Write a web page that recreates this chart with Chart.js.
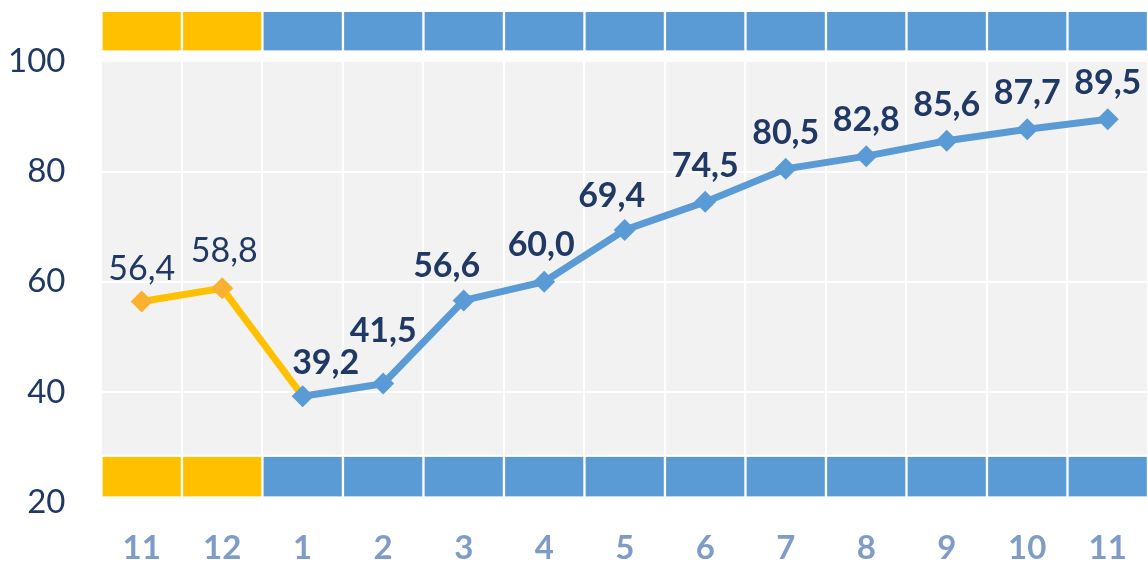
<!DOCTYPE html>
<html>
<head>
<meta charset="utf-8">
<script src="https://cdn.jsdelivr.net/npm/chart.js@4.4.1/dist/chart.umd.min.js"></script>
<style>
  html, body { margin: 0; padding: 0; background: #fff; }
  #wrap { width: 1148px; height: 565px; position: relative; }
</style>
</head>
<body>
<div id="wrap"><canvas id="chart"></canvas></div>
<script>
// months on the x axis (Nov of prior year -> Nov)
const months = ['11', '12', '1', '2', '3', '4', '5', '6', '7', '8', '9', '10', '11']
const prevYear = [56.4, 58.8, 39.2, null, null, null, null, null, null, null, null, null, null]
const curYear = [null, null, 39.2, 41.5, 56.6, 60.0, 69.4, 74.5, 80.5, 82.8, 85.6, 87.7, 89.5]
const yTicks = [20, 40, 60, 80, 100]
const bandTop = [102, 109]
const bandBottom = [21, 28.2]

const ORANGE = '#FFC000'
const BLUE = '#5B9BD5'
const NAVY = '#1F3864'
const FONT = 'Lato, "Open Sans", sans-serif'
const CLEAR = 'rgba(0,0,0,0)'

const bandColors = months.map((m, i) => curYear[i] === null ? ORANGE : BLUE)
const fmt = v => v.toFixed(1).replace('.', ',')

// label nudges (px) where the original moved a label off its point
const labelShift = {
  1: { 2: [23, -33], 3: [0, -53], 4: [-17, -34], 5: [-3, -37], 6: [-13, -34] },
  0: { 0: [0, -33], 1: [2, -37] },
}

const plotBg = {
  id: 'plotBg',
  beforeDraw(chart) {
    const { ctx, chartArea: a, scales: { y } } = chart
    const top = y.getPixelForValue(100), bot = y.getPixelForValue(28.6)
    ctx.save()
    ctx.fillStyle = '#F2F2F2'
    ctx.fillRect(a.left, top, a.right - a.left, bot - top)
    ctx.restore()
  },
}

const valueLabels = {
  id: 'valueLabels',
  afterDatasetsDraw(chart) {
    const ctx = chart.ctx
    ctx.save()
    ctx.textAlign = 'center'
    ctx.textBaseline = 'middle'
    ctx.fillStyle = NAVY
    ;[0, 1].forEach(di => {
      const ds = chart.data.datasets[di]
      const meta = chart.getDatasetMeta(di)
      ds.data.forEach((v, i) => {
        if (v === null) return
        if (di === 0 && curYear[i] !== null) return
        const pt = meta.data[i]
        const s = (labelShift[di] && labelShift[di][i]) || [0, -36]
        ctx.font = (di === 1 ? 'bold ' : '') + '34px ' + FONT
        ctx.fillText(fmt(v), pt.x + s[0], pt.y + s[1])
      })
    })
    ctx.restore()
  },
}

const band = data => ({
  type: 'bar', data, order: 2, grouped: false,
  backgroundColor: bandColors, borderColor: '#fff',
  borderWidth: { left: 1.5, right: 1.5, top: 0, bottom: 0 }, borderSkipped: false,
  barPercentage: 1, categoryPercentage: 1,
})

new Chart(document.getElementById('chart'), {
  data: {
    labels: months,
    datasets: [
      {
        type: 'line', label: 'prev', data: prevYear, order: 1,
        borderColor: ORANGE, backgroundColor: '#FAB132', borderWidth: 7,
        pointStyle: 'rectRot', pointRadius: prevYear.map((v, i) => curYear[i] === null ? 11 : 0),
        pointBackgroundColor: '#FAB132', pointBorderWidth: 0, tension: 0,
      },
      {
        type: 'line', label: 'cur', data: curYear, order: 0,
        borderColor: BLUE, backgroundColor: BLUE, borderWidth: 7,
        pointStyle: 'rectRot', pointRadius: 11,
        pointBackgroundColor: BLUE, pointBorderWidth: 0, tension: 0,
      },
      band(months.map(() => bandTop)),
      band(months.map(() => bandBottom)),
    ],
  },
  options: {
    responsive: true, maintainAspectRatio: false, animation: false,
    layout: { padding: { top: 0, left: 8, right: 0, bottom: 0 }, autoPadding: false },
    plugins: { legend: { display: false }, tooltip: { enabled: false } },
    scales: {
      x: {
        grid: { color: '#fff', lineWidth: 2, drawTicks: true, tickLength: 30, tickColor: CLEAR, offset: true },
        border: { display: false },
        ticks: { color: '#7F9BC8', padding: 0, font: { family: FONT, size: 33, weight: 'bold', lineHeight: 1 } },
      },
      y: {
        min: 20, max: 109,
        afterBuildTicks: s => { s.ticks = yTicks.map(v => ({ value: v })) },
        grid: { color: '#fff', lineWidth: 2, drawTicks: true, tickLength: 36, tickColor: CLEAR },
        border: { display: false },
        ticks: { color: NAVY, padding: 0, font: { family: FONT, size: 33, lineHeight: 0.72 } },
      },
    },
  },
  plugins: [plotBg, valueLabels],
})
</script>
</body>
</html>
